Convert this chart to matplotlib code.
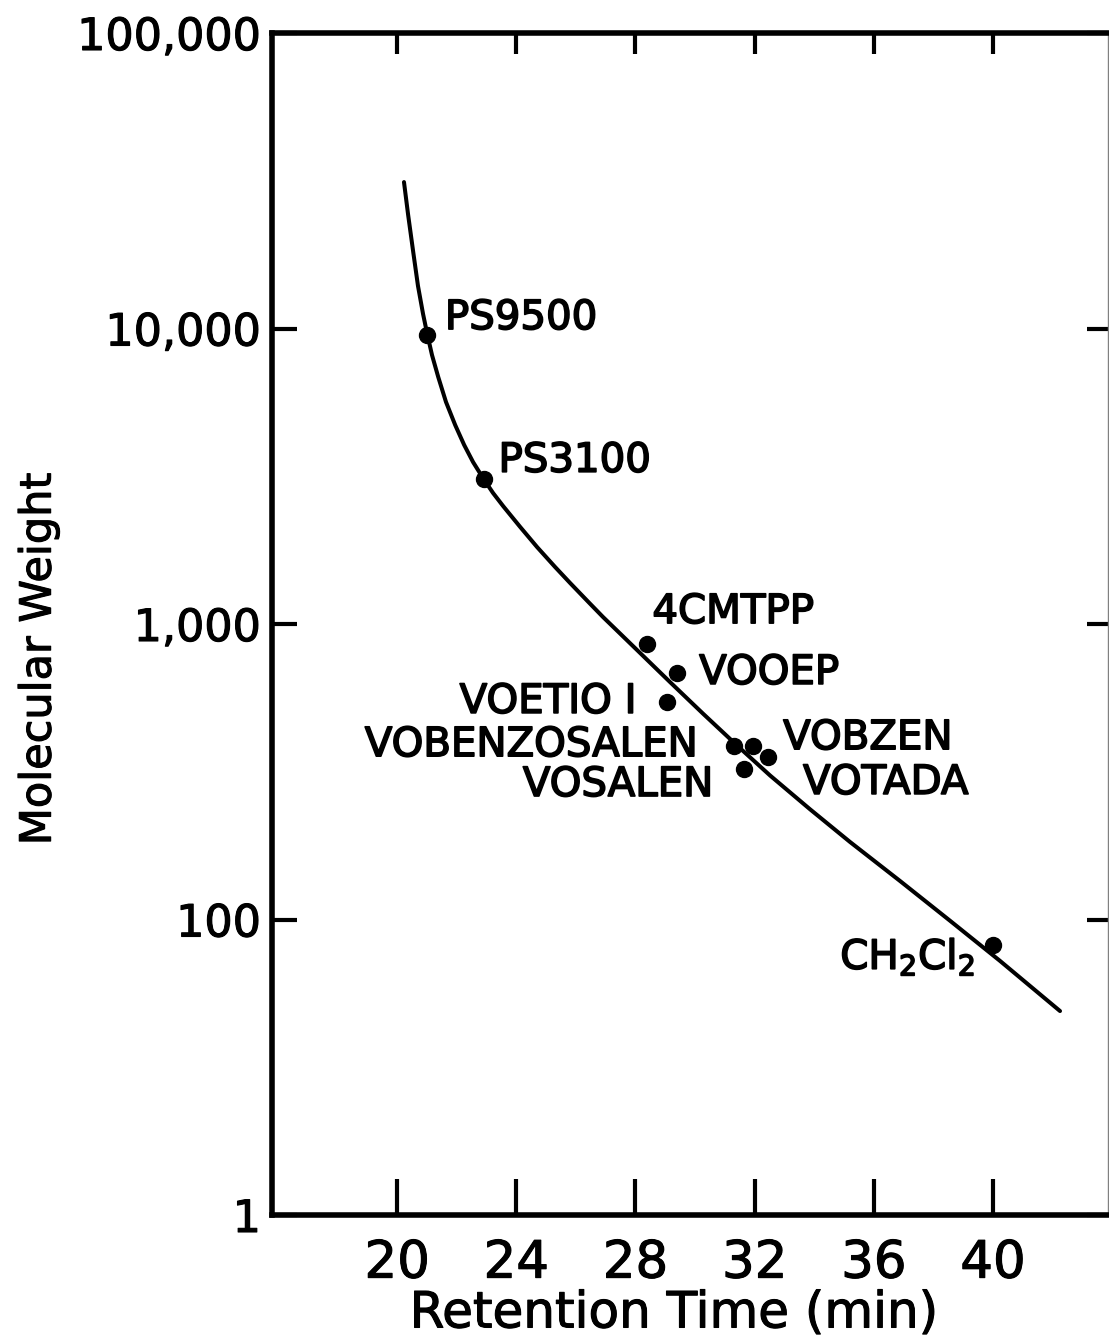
import matplotlib
matplotlib.use("Agg")
import matplotlib.pyplot as plt
import matplotlib.patheffects as pe
from matplotlib.ticker import FixedLocator, NullLocator

# standards
names = ["PS9500", "PS3100", "4CMTPP", "VOOEP", "VOETIO I", "VOBENZOSALEN",
         "VOBZEN", "VOSALEN", "VOTADA", "CH$_2$Cl$_2$"]
retention = [21.0, 22.9, 28.4, 29.4, 29.05, 31.3, 31.95, 31.65, 32.45, 40.0]
mol_weight = [9500, 3100, 855, 683, 545, 386, 386, 323, 355, 82]

# fitted calibration curve
curve_time = [20.23, 20.37, 20.54, 20.70, 20.87, 21.01, 21.17, 21.38, 21.64,
              21.95, 22.25, 22.55, 22.89, 23.22, 23.56, 24.13, 24.70, 25.30,
              25.81, 26.48, 26.91, 27.48, 28.05, 29.16, 30.27, 31.41, 32.52,
              33.86, 35.20, 36.88, 38.56, 40.23, 42.25]
curve_mw = [31300, 24200, 18150, 13930, 11200, 9580, 8135, 6850, 5640,
            4710, 4035, 3530, 3110, 2775, 2505, 2130, 1820, 1560,
            1375, 1170, 1056, 929, 817, 636, 497, 388, 307,
            236, 183, 135, 99, 72.5, 49]

x_ticks = [20, 24, 28, 32, 36, 40]
y_ticks = [10, 100, 1000, 10000, 100000]
y_tick_labels = ["1", "100", "1,000", "10,000", "100,000"]

# label placement: (dx px, dy px, ha)
placement = [(18, 17, "left"), (15, 18, "left"), (5, 32, "left"),
             (22, 0, "left"), (-30, 0, "right"), (-36, 1, "right"),
             (30, 8, "left"), (-31, -16, "right"), (35, -26, "left"),
             (-18, -12, "right")]

PX = 0.72  # points per pixel at dpi 100
thick = [pe.withStroke(linewidth=1.2, foreground="black")]
medium = [pe.withStroke(linewidth=0.8, foreground="black")]

plt.rcParams["font.family"] = ["DejaVu Sans"]
plt.rcParams["mathtext.fontset"] = "dejavusans"

fig = plt.figure(figsize=(11.09, 13.38), dpi=100)
ax = fig.add_axes([272 / 1109, 123 / 1338, 836 / 1109, 1182 / 1338])

ax.plot(curve_time, curve_mw, color="black", lw=2.9, solid_capstyle="round",
        solid_joinstyle="round", zorder=2)
ax.plot(retention, mol_weight, "o", color="black", ms=11.5, zorder=3)

for name, t, mw, (dx, dy, ha) in zip(names, retention, mol_weight, placement):
    ax.annotate(name, (t, mw), xytext=(dx * PX, dy * PX),
                textcoords="offset points", ha=ha, va="center",
                fontsize=29, path_effects=thick)

ax.set_yscale("log")
ax.set_xlim(15.8, 43.86)
ax.set_ylim(10, 100000)

ax.xaxis.set_major_locator(FixedLocator(x_ticks))
ax.xaxis.set_minor_locator(NullLocator())
ax.yaxis.set_major_locator(FixedLocator(y_ticks))
ax.yaxis.set_minor_locator(NullLocator())
ax.set_yticklabels(y_tick_labels)

ax.tick_params(axis="x", direction="in", length=36 * PX, width=3, pad=17,
               labelsize=37)
ax.tick_params(axis="y", direction="in", length=25 * PX, width=3, pad=8,
               labelsize=32)
for lab in ax.get_xticklabels() + ax.get_yticklabels():
    lab.set_path_effects(medium)

for side in ["left", "bottom", "top"]:
    ax.spines[side].set_linewidth(4)
ax.spines["right"].set_linewidth(1)
ax.spines["right"].set_color("0.5")

top = ax.secondary_xaxis("top")
top.xaxis.set_major_locator(FixedLocator(x_ticks))
top.tick_params(direction="in", length=21 * PX, width=3, labeltop=False)
top.spines["top"].set_visible(False)

right = ax.secondary_yaxis("right")
right.yaxis.set_major_locator(FixedLocator(y_ticks))
right.yaxis.set_minor_locator(NullLocator())
right.tick_params(direction="in", length=21 * PX, width=3, labelright=False)
right.spines["right"].set_visible(False)

ax.set_xlabel("Retention Time (min)", fontsize=36, path_effects=medium)
ax.xaxis.set_label_coords(0.481, -0.063)
ax.set_ylabel("Molecular Weight", fontsize=31, path_effects=medium)
ax.yaxis.set_label_coords(-0.254, 0.47)

fig.savefig("out.png", dpi=100)
